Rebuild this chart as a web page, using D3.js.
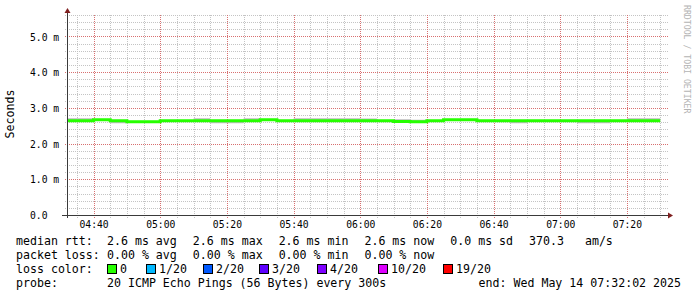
<!DOCTYPE html>
<html>
<head>
<meta charset="utf-8">
<script src="https://cdn.jsdelivr.net/npm/d3@7"></script>
<style>
  body { margin: 0; background: #fff; }
  text { font-family: "DejaVu Sans Mono", monospace; fill: #000; }
</style>
</head>
<body>
<div id="chart"></div>
<script>
// ---- data ----
const startTime = new Date(2025, 4, 14, 4, 32, 2);
const endTime = new Date(2025, 4, 14, 7, 32, 2);
const firstStep = new Date(2025, 4, 14, 4, 30, 0);   // rrd rows, 300 s each

// median rtt per 5 min row (ms)
const rttMedian = [
  2.64, 2.64, 2.67, 2.64, 2.61, 2.61, 2.64, 2.64, 2.64, 2.64, 2.64, 2.64,
  2.67, 2.64, 2.64, 2.64, 2.64, 2.64, 2.64, 2.64, 2.62, 2.61, 2.64, 2.67,
  2.67, 2.64, 2.64, 2.64, 2.64, 2.64, 2.64, 2.64, 2.64, 2.64, 2.64, 2.64
];
// smoke (spread of the 20 pings), top and bottom (ms)
const smokeHi = [
  2.71, 2.71, 2.69, 2.66, 2.63, 2.63, 2.66, 2.66, 2.71, 2.66, 2.66, 2.71,
  2.69, 2.66, 2.71, 2.71, 2.71, 2.71, 2.70, 2.66, 2.68, 2.67, 2.66, 2.69,
  2.69, 2.66, 2.66, 2.66, 2.66, 2.66, 2.66, 2.66, 2.66, 2.66, 2.71, 2.71
];
const smokeLo = [
  2.62, 2.62, 2.65, 2.57, 2.58, 2.58, 2.62, 2.62, 2.62, 2.57, 2.57, 2.62,
  2.65, 2.62, 2.62, 2.62, 2.62, 2.62, 2.62, 2.62, 2.59, 2.58, 2.62, 2.65,
  2.65, 2.62, 2.62, 2.57, 2.62, 2.62, 2.62, 2.57, 2.57, 2.62, 2.62, 2.62
];

const xTickLabels = ["04:40", "05:00", "05:20", "05:40", "06:00", "06:20", "06:40", "07:00", "07:20"];
const yTickValues = [0, 1, 2, 3, 4, 5];
const yTickLabels = ["0.0", "1.0 m", "2.0 m", "3.0 m", "4.0 m", "5.0 m"];

const statRows = [
  ["median rtt:", ["2.6 ms avg", "2.6 ms max", "2.6 ms min", "2.6 ms now", "0.0 ms sd", "370.3   am/s"]],
  ["packet loss:", ["0.00 % avg", "0.00 % max", "0.00 % min", "0.00 % now"]]
];
const lossLabels = ["0", "1/20", "2/20", "3/20", "4/20", "10/20", "19/20"];
const lossColors = ["#26ff00", "#00b8ff", "#0059ff", "#5e00ff", "#7e00ff", "#dd00ff", "#ff0000"];
const probeText = "20 ICMP Echo Pings (56 Bytes) every 300s";
const endText = "end: Wed May 14 07:32:02 2025";

// ---- layout ----
const width = 697, height = 297;
const pLeft = 67, pRight = 667, pTop = 15, pBottom = 215;
const lossSwatchX = [107, 146, 203, 259, 317, 378, 443];

const svg = d3.select("#chart").append("svg")
  .attr("width", width)
  .attr("height", height);

const x = d3.scaleTime().domain([startTime, endTime]).range([pLeft, pRight]);
const y = d3.scaleLinear().domain([0, 5.6]).range([pBottom, pTop]);

// grid
const minorY = d3.range(1, 29).map(i => +(i * 0.2).toFixed(1)).filter(v => v % 1 !== 0);
const majorY = [1, 2, 3, 4, 5];
const allSteps = d3.timeMinute.every(5).range(startTime, endTime);
const majorX = allSteps.filter(d => d.getMinutes() % 20 === 0);
const minorX = allSteps.filter(d => d.getMinutes() % 20 !== 0);
const minorColor = "#c4c4c4", majorColor = "#d87070";

// dotted grid drawn as thin rects: one pixel on, one off
function hGrid(vals, color) {
  vals.forEach(v => {
    const yy = Math.round(y(v));
    svg.append("g").selectAll("rect").data(d3.range(pLeft - 2, pRight + 1, 2)).join("rect")
      .attr("x", d => d).attr("y", yy).attr("width", 1).attr("height", 1)
      .attr("fill", color);
  });
}
function vGrid(vals, color) {
  vals.forEach(v => {
    const xx = Math.round(x(v));
    svg.append("g").selectAll("rect").data(d3.range(pTop, pBottom + 3, 2)).join("rect")
      .attr("x", xx).attr("y", d => d).attr("width", 1).attr("height", 1)
      .attr("fill", color);
  });
}
hGrid(minorY, minorColor);
vGrid(minorX, minorColor);
hGrid(majorY, majorColor);
vGrid(majorX, majorColor);

// data
const rows = rttMedian.map((v, i) => ({
  t: d3.timeMinute.offset(firstStep, i * 5),
  med: v, hi: smokeHi[i], lo: smokeLo[i]
}));
const last = rows[rows.length - 1];
rows.push({ t: d3.timeMinute.offset(last.t, 5), med: last.med, hi: last.hi, lo: last.lo });

svg.append("clipPath").attr("id", "plot")
  .append("rect").attr("x", pLeft).attr("y", pTop - 5).attr("width", pRight - pLeft).attr("height", pBottom - pTop + 5);

const plot = svg.append("g").attr("clip-path", "url(#plot)");

plot.append("path")
  .datum(rows)
  .attr("fill", "#bcbcbc")
  .attr("d", d3.area().curve(d3.curveStepAfter)
    .x(d => x(d.t)).y0(d => y(d.lo)).y1(d => y(d.hi)));

plot.append("path")
  .datum(rows)
  .attr("fill", "none")
  .attr("stroke", lossColors[0])
  .attr("stroke-width", 3)
  .attr("d", d3.line().curve(d3.curveStepAfter)
    .x(d => x(d.t)).y(d => y(d.med)));

// axes
const axisColor = "#3a3a3a", arrowColor = "#7f1f1f";
svg.append("line").attr("x1", pLeft - 5).attr("x2", pRight + 2).attr("y1", pBottom + 0.5).attr("y2", pBottom + 0.5)
  .attr("stroke", axisColor);
svg.append("line").attr("x1", pLeft + 0.5).attr("x2", pLeft + 0.5).attr("y1", pBottom + 3).attr("y2", pTop - 2)
  .attr("stroke", axisColor);
svg.append("path").attr("fill", arrowColor)
  .attr("d", `M${pLeft - 2.5},${pTop - 2}L${pLeft + 3.5},${pTop - 2}L${pLeft + 0.5},${pTop - 7}Z`);
svg.append("path").attr("fill", arrowColor)
  .attr("d", `M${pRight + 1},${pBottom - 2.5}L${pRight + 1},${pBottom + 3.5}L${pRight + 6},${pBottom + 0.5}Z`);

// tick labels
svg.append("g").attr("transform", `translate(0,${pBottom})`)
  .call(d3.axisBottom(x).tickValues(majorX).tickSize(0).tickFormat((d, i) => xTickLabels[i]))
  .call(g => g.select(".domain").remove())
  .call(g => g.selectAll("text")
    .attr("y", 12.5).attr("dy", 0)
    .style("font-family", "DejaVu Sans Mono").style("font-size", "9.7px").attr("fill", "#000"));

svg.append("g").attr("transform", `translate(${pLeft},0)`)
  .call(d3.axisLeft(y).tickValues(yTickValues).tickSize(0).tickFormat((d, i) => yTickLabels[i]))
  .call(g => g.select(".domain").remove())
  .call(g => g.selectAll("text")
    .attr("x", 30 - pLeft).attr("dy", "0.38em").attr("text-anchor", "start")
    .style("font-family", "DejaVu Sans Mono").style("font-size", "9.7px").attr("fill", "#000"));

svg.append("text")
  .attr("transform", "translate(14,114) rotate(-90)")
  .attr("text-anchor", "middle")
  .style("font-size", "11.6px")
  .text("Seconds");

svg.append("text")
  .attr("transform", "translate(684,5) rotate(90)")
  .style("font-size", "8.2px")
  .style("fill", "#b4b4b4")
  .text("RRDTOOL / TOBI OETIKER");

// legend
const legendFont = "11.6px";
const rowY = [245, 259, 273, 287];

statRows.forEach(([label, parts], r) => {
  svg.append("text").attr("x", 16).attr("y", rowY[r]).style("font-size", legendFont).text(label);
  let cx = 107;
  parts.forEach(p => {
    const t = svg.append("text").attr("x", cx).attr("y", rowY[r]).style("font-size", legendFont)
      .style("white-space", "pre").text(p);
    cx += t.node().getComputedTextLength() + 16;
  });
});

svg.append("text").attr("x", 16).attr("y", rowY[2]).style("font-size", legendFont).text("loss color:");
lossLabels.forEach((lab, i) => {
  svg.append("rect")
    .attr("x", lossSwatchX[i] + 0.5).attr("y", rowY[2] - 8.5)
    .attr("width", 9).attr("height", 9)
    .attr("fill", lossColors[i]).attr("stroke", "#000").attr("stroke-width", 1);
  svg.append("text").attr("x", lossSwatchX[i] + 13).attr("y", rowY[2]).style("font-size", legendFont).text(lab);
});

svg.append("text").attr("x", 16).attr("y", rowY[3]).style("font-size", legendFont).text("probe:");
svg.append("text").attr("x", 107).attr("y", rowY[3]).style("font-size", legendFont).text(probeText);
svg.append("text").attr("x", 681).attr("y", rowY[3]).attr("text-anchor", "end").style("font-size", legendFont).text(endText);
</script>
</body>
</html>
